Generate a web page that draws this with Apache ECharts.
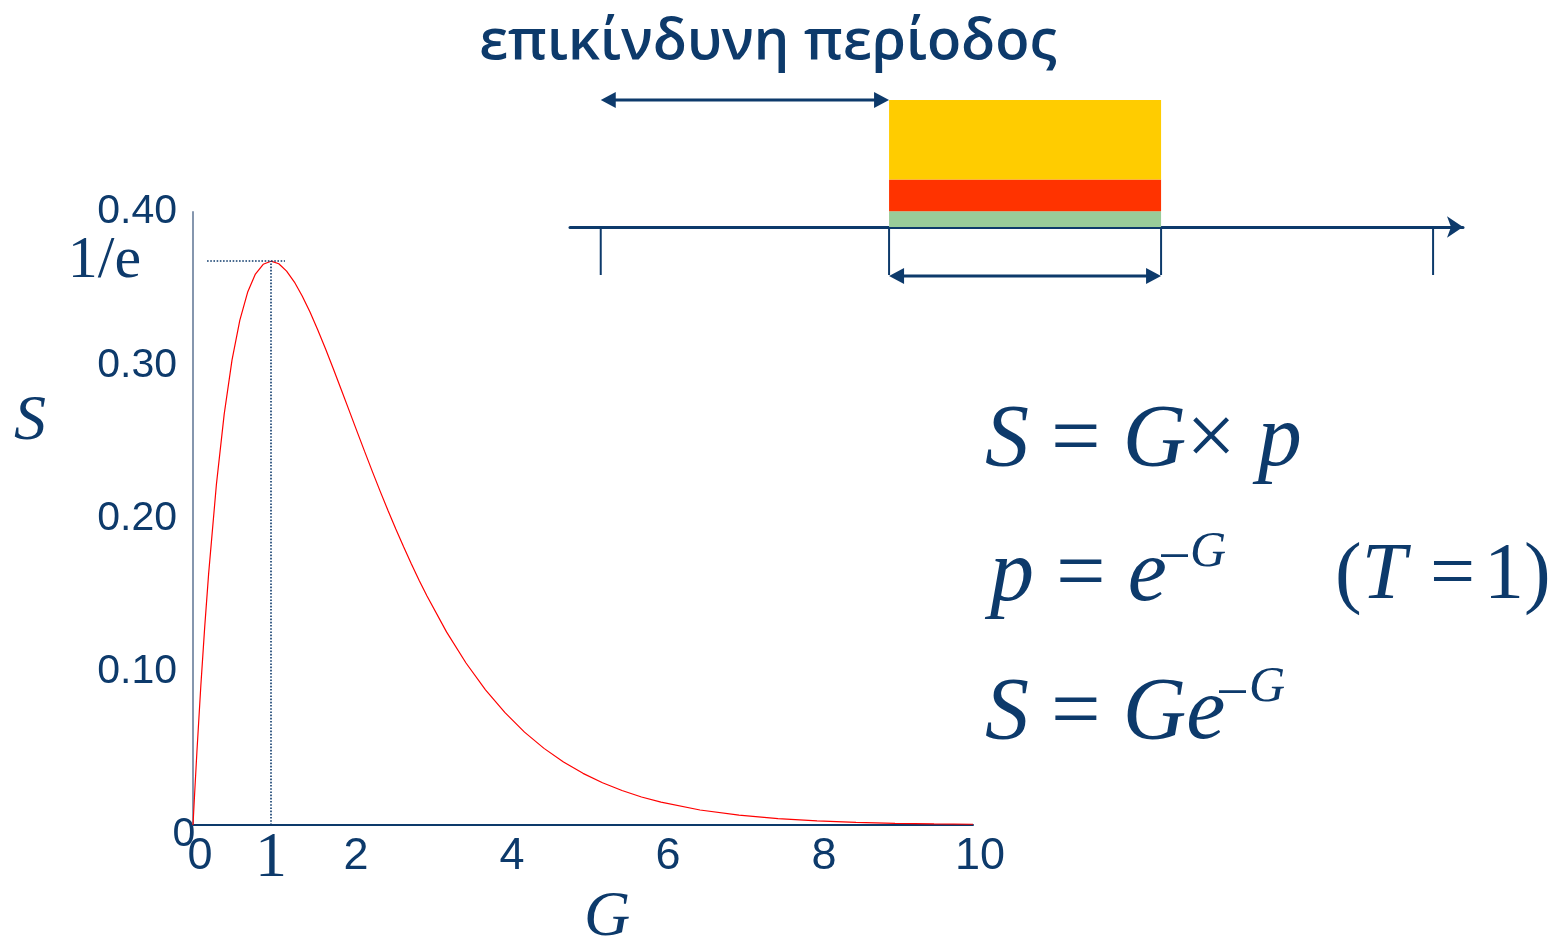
<!DOCTYPE html>
<html lang="el">
<head>
<meta charset="UTF-8">
<title>S = G e^-G</title>
<script src="https://cdn.jsdelivr.net/npm/echarts@6/dist/echarts.min.js"></script>
<style>
  html, body { margin: 0; padding: 0; background: #fff; }
  #main { width: 1554px; height: 944px; }
</style>
</head>
<body>
<div id="main"></div>
<script>
// throughput curve
var loadG = [0, 0.02, 0.05, 0.1, 0.15, 0.2, 0.3, 0.4, 0.5, 0.6, 0.7, 0.8, 0.9, 1.0, 1.1, 1.2, 1.3, 1.4, 1.5, 1.6,
  1.7, 1.8, 1.9, 2.0, 2.1, 2.2, 2.3, 2.4, 2.5, 2.6, 2.7, 2.8, 2.9, 3.0, 3.25, 3.5, 3.75, 4.0, 4.25, 4.5, 4.75,
  5.0, 5.25, 5.5, 5.75, 6.0, 6.5, 7.0, 7.5, 8.0, 8.5, 9.0, 9.5, 10];
var throughputS = [0, 0.0196, 0.0476, 0.0905, 0.1291, 0.1637, 0.2222, 0.2681, 0.3033, 0.3293, 0.3476, 0.3595,
  0.3659, 0.3679, 0.3662, 0.3614, 0.3543, 0.3452, 0.3347, 0.3230, 0.3106, 0.2975, 0.2842, 0.2707, 0.2572, 0.2438,
  0.2306, 0.2177, 0.2052, 0.1931, 0.1815, 0.1703, 0.1596, 0.1494, 0.1260, 0.1057, 0.0882, 0.0733, 0.0606, 0.0500,
  0.0411, 0.0337, 0.0276, 0.0225, 0.0183, 0.0149, 0.0098, 0.0064, 0.0041, 0.0027, 0.0017, 0.0011, 0.0007, 0.0005];

// axis ticks
var gTicks = [0, 2, 4, 6, 8, 10];
var sTicks = [0, 0.1, 0.2, 0.3, 0.4];

// maximum point and the dotted guide
var peakG = 1;
var peakS = 0.368;
var guideG = [0.18, 1.18];

// timeline sketch (units of T)
var slotTicks = [-1.06, 0, 1, 2];
var frame = [0, 1];
var dangerArrow = [-1.06, 0];
var bandHeights = [0.125, 0.25, 0.625];   // green, red, yellow (stacked)

var navy = '#0d3a6b';
var serif = 'Liberation Serif';
var sans = 'Liberation Sans';

var pts = loadG.map(function (g, i) { return [g, throughputS[i]]; });

var bandData = [];
var acc = 0;
bandHeights.forEach(function (h) {
  bandData.push([frame[0], frame[1], acc, acc + h]);
  acc += h;
});
var bandColors = ['#99cc99', '#ff3300', '#ffcc00'];

function renderBand(params, api) {
  var p0 = api.coord([api.value(0), api.value(3)]);
  var p1 = api.coord([api.value(1), api.value(2)]);
  return {
    type: 'rect',
    shape: { x: p0[0], y: p0[1], width: p1[0] - p0[0], height: p1[1] - p0[1] },
    style: { fill: bandColors[params.dataIndex] }
  };
}

function renderTick(params, api) {
  var a = api.coord([api.value(0), 0]);
  var b = api.coord([api.value(0), -0.378]);
  return {
    type: 'line',
    shape: { x1: a[0], y1: a[1], x2: b[0], y2: b[1] },
    style: { stroke: navy, lineWidth: 2 }
  };
}

function renderArrow(params, api) {
  var a = api.coord([api.value(0), api.value(2)]);
  var b = api.coord([api.value(1), api.value(2)]);
  var L = 15, H = 8;
  return {
    type: 'group',
    children: [
      { type: 'line', shape: { x1: a[0] + L - 2, y1: a[1], x2: b[0] - L + 2, y2: b[1] },
        style: { stroke: navy, lineWidth: 3 } },
      { type: 'polygon', shape: { points: [[a[0], a[1]], [a[0] + L, a[1] - H], [a[0] + L, a[1] + H]] },
        style: { fill: navy } },
      { type: 'polygon', shape: { points: [[b[0], b[1]], [b[0] - L, b[1] - H], [b[0] - L, b[1] + H]] },
        style: { fill: navy } }
    ]
  };
}

// one piece of a formula; {i|..} italic, {n|..} upright
function formula(x, y, text, size) {
  var fs = size || 88;
  return {
    type: 'text', x: x, y: y,
    style: {
      text: text, fill: navy, align: 'left', verticalAlign: 'middle',
      fontFamily: serif, fontSize: fs,
      rich: {
        i: { fontFamily: serif, fontStyle: 'italic', fontSize: fs, fill: navy },
        n: { fontFamily: serif, fontSize: fs, fill: navy }
      }
    }
  };
}

// minus sign of an exponent (a dash, long like the original)
function minus(x, y) {
  return {
    type: 'text', x: x, y: y,
    style: { text: '\u2014', fill: navy, fontFamily: sans, fontWeight: 'bold', fontSize: 27,
      align: 'left', verticalAlign: 'middle' }
  };
}

var chart = echarts.init(document.getElementById('main'));

chart.setOption({
  animation: false,
  backgroundColor: '#fff',
  grid: [
    { left: 193, top: 212, width: 780, height: 613, outerBoundsMode: 'none' },
    { left: 570, top: 100, width: 893, height: 127, outerBoundsMode: 'none' }
  ],
  xAxis: [
    {
      type: 'value', gridIndex: 0, min: gTicks[0], max: gTicks[gTicks.length - 1], interval: 2,
      axisLine: { show: true, lineStyle: { color: navy, width: 2 } },
      axisTick: { show: false }, splitLine: { show: false },
      axisLabel: { color: navy, fontFamily: sans, fontSize: 45, margin: 9, padding: [0, 0, 0, 14] }
    },
    {
      type: 'value', gridIndex: 1, min: -1.173, max: 2.110,
      axisLine: { show: true, symbol: ['none', 'arrow'], symbolSize: [16, 16], lineStyle: { color: navy, width: 3 } },
      axisTick: { show: false }, splitLine: { show: false }, axisLabel: { show: false }
    }
  ],
  yAxis: [
    {
      type: 'value', gridIndex: 0, min: sTicks[0], max: sTicks[sTicks.length - 1], interval: 0.1,
      axisLine: { show: true, lineStyle: { color: '#8596ae', width: 2 } },
      axisTick: { show: false }, splitLine: { show: false },
      axisLabel: {
        color: navy, fontFamily: sans, fontSize: 41, margin: 16,
        formatter: function (v) { return v === 0 ? '' : v.toFixed(2); }
      }
    },
    {
      type: 'value', gridIndex: 1, min: 0, max: 1, show: false
    }
  ],
  series: [
    {
      type: 'line', xAxisIndex: 0, yAxisIndex: 0, data: pts, showSymbol: false, smooth: false,
      lineStyle: { color: '#ff0000', width: 1.2 },
      markLine: {
        silent: true, symbol: 'none', animation: false,
        lineStyle: { type: 'dotted', color: navy, width: 1.6 },
        data: [
          [{ coord: [peakG, 0], label: { show: true, position: 'start', formatter: '1', distance: 2,
              fontFamily: serif, fontSize: 64, color: navy } },
           { coord: [peakG, peakS] }],
          [{ coord: [guideG[0], peakS], label: { show: true, position: 'start', formatter: '1/e', distance: 66,
              fontFamily: serif, fontSize: 60, color: navy } },
           { coord: [guideG[1], peakS] }]
        ]
      }
    },
    {
      type: 'custom', xAxisIndex: 1, yAxisIndex: 1, clip: false, silent: true,
      encode: { x: [0, 1], y: [2, 3] }, data: bandData, renderItem: renderBand
    },
    {
      type: 'custom', xAxisIndex: 1, yAxisIndex: 1, clip: false, silent: true,
      encode: { x: 0 }, data: slotTicks.map(function (t) { return [t]; }), renderItem: renderTick
    },
    {
      type: 'custom', xAxisIndex: 1, yAxisIndex: 1, clip: false, silent: true,
      encode: { x: [0, 1], y: 2 },
      data: [[dangerArrow[0], dangerArrow[1], 1.0], [frame[0], frame[1], -0.386]],
      renderItem: renderArrow
    }
  ],
  graphic: [
    { type: 'text', x: 768, y: 43,
      style: { text: 'επικίνδυνη περίοδος', fill: navy, fontFamily: 'Open Sans', fontWeight: 600, fontSize: 56,
        align: 'center', verticalAlign: 'middle' } },
    { type: 'text', x: 184, y: 835,
      style: { text: '0', fill: navy, fontFamily: sans, fontSize: 41, align: 'center', verticalAlign: 'middle' } },
    { type: 'text', x: 30, y: 422,
      style: { text: 'S', fill: navy, fontFamily: serif, fontStyle: 'italic', fontSize: 64,
        align: 'center', verticalAlign: 'middle' } },
    { type: 'text', x: 607, y: 918,
      style: { text: 'G', fill: navy, fontFamily: serif, fontStyle: 'italic', fontSize: 64,
        align: 'center', verticalAlign: 'middle' } },
    formula(985, 442, '{i|S} {n|=} {i|G}{n|×} {i|p}'),
    formula(990, 577, '{i|p} {n|=} {i|e}'),
    minus(1161, 556),
    formula(1190, 553, '{i|G}', 50),
    formula(1335, 577, '{n|(}{i|T}', 80),
    formula(1430, 577, '{n|=}', 80),
    formula(1484, 577, '{n|1)}', 80),
    formula(985, 715, '{i|S} {n|=} {i|Ge}'),
    minus(1219, 692),
    formula(1249, 688, '{i|G}', 50)
  ]
});
</script>
</body>
</html>
